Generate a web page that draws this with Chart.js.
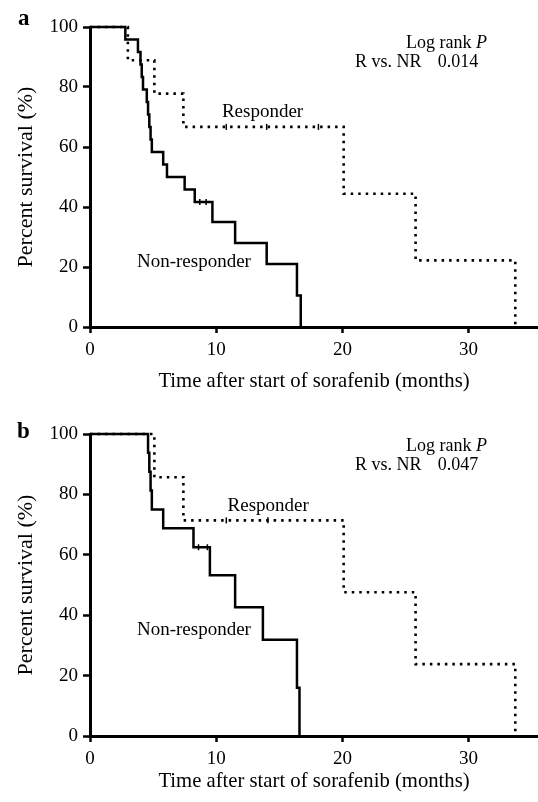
<!DOCTYPE html>
<html>
<head>
<meta charset="utf-8">
<script src="https://cdn.jsdelivr.net/npm/chart.js@4.4.0/dist/chart.umd.min.js"></script>
<style>
  html, body { margin: 0; padding: 0; background: #fff; }
  .panel { position: relative; width: 538px; }
</style>
</head>
<body>
<div class="panel" style="height:400px"><canvas id="chartA"></canvas></div>
<div class="panel" style="height:402px"><canvas id="chartB"></canvas></div>
<script>
// axis ticks
const monthTicks = [0, 10, 20, 30];
const percentTicks = [0, 20, 40, 60, 80, 100];

// panel a - Kaplan-Meier steps (months, % surviving after the step)
const monthsNonRespA = [0, 2.8, 3.8, 4.0, 4.1, 4.2, 4.5, 4.6, 4.7, 4.8, 4.9, 5.8, 6.1, 7.5, 8.3, 9.7, 11.5, 14.0, 16.4, 16.7];
const survNonRespA   = [100, 95.8, 91.7, 87.5, 83.3, 79.2, 75, 70.8, 66.7, 62.5, 58.3, 54.2, 50, 45.8, 41.7, 35, 28, 21, 10.5, 0];
const monthsRespA = [0, 3.0, 5.1, 7.4, 20.1, 25.8, 33.7];
const survRespA   = [100, 88.9, 77.8, 66.7, 44.4, 22.2, 0];
const censorMonthsNonRespA = [8.7, 9.2];
const censorSurvNonRespA   = [41.7, 41.7];
const censorMonthsRespA = [10.8, 14.0, 18.1];
const censorSurvRespA   = [66.7, 66.7, 66.7];

// panel b
const monthsNonRespB = [0, 4.6, 4.7, 4.8, 4.9, 5.8, 8.2, 9.5, 11.5, 13.7, 16.4, 16.6];
const survNonRespB   = [100, 93.8, 87.5, 81.3, 75, 68.8, 62.5, 53.2, 42.6, 31.9, 16, 0];
const monthsRespB = [0, 5.1, 7.4, 20.1, 25.8, 33.7];
const survRespB   = [100, 85.7, 71.4, 47.6, 23.8, 0];
const censorMonthsNonRespB = [8.6, 9.3];
const censorSurvNonRespB   = [62.5, 62.5];
const censorMonthsRespB = [10.8, 14.1];
const censorSurvRespB   = [71.4, 71.4];

const groupNames = ['Non-responder', 'Responder'];
const pValues = ['0.014', '0.047'];
const panelLetters = ['a', 'b'];

const SERIF = "'Liberation Serif', 'Times New Roman', serif";

const toPoints = (xs, ys) => xs.map((x, i) => ({ x: x, y: ys[i] }));

// draws the panel letter, the curve names and the log-rank note
const notesPlugin = {
  id: 'notes',
  afterDraw(chart) {
    const n = chart.options.plugins.notes;
    const ctx = chart.ctx;
    const xs = chart.scales.x, ys = chart.scales.y;
    ctx.save();
    ctx.fillStyle = '#000';
    ctx.textBaseline = 'middle';

    ctx.font = 'bold 23px ' + SERIF;
    ctx.textAlign = 'left';
    ctx.fillText(n.letter, n.letterPos[0], n.letterPos[1]);

    ctx.font = '19px ' + SERIF;
    n.curveLabels.forEach(l => {
      ctx.fillText(l.text, xs.getPixelForValue(l.x), ys.getPixelForValue(l.y));
    });

    // "Log rank P"
    ctx.font = 'italic 18px ' + SERIF;
    const pw = ctx.measureText('P').width;
    const right = xs.getPixelForValue(n.logRank.right);
    const y1 = ys.getPixelForValue(n.logRank.y1);
    ctx.textAlign = 'right';
    ctx.fillText('P', right, y1);
    ctx.font = '18px ' + SERIF;
    ctx.fillText('Log rank ', right - pw, y1);

    const y2 = ys.getPixelForValue(n.logRank.y2);
    ctx.textAlign = 'left';
    ctx.fillText('R vs. NR', xs.getPixelForValue(n.logRank.left), y2);
    ctx.fillText(n.p, xs.getPixelForValue(n.logRank.pLeft), y2);
    ctx.restore();
  }
};

function buildPanel(id, d, layout) {
  const censorStyle = {
    showLine: false, pointStyle: 'line', rotation: 90, pointRadius: 3, pointHoverRadius: 3,
    pointBorderWidth: 1.5, pointBorderColor: '#000', clip: 8
  };
  return new Chart(document.getElementById(id), {
    type: 'line',
    data: {
      datasets: [
        { label: groupNames[0], data: toPoints(d.nrX, d.nrY), stepped: true,
          borderColor: '#000', borderWidth: 2.5, pointRadius: 0, clip: 8 },
        { label: groupNames[1], data: toPoints(d.rX, d.rY), stepped: true,
          borderColor: '#000', borderWidth: 2.6, borderDash: [2.5, 5], pointRadius: 0, clip: 8 },
        Object.assign({ label: 'censored NR', data: toPoints(d.cnrX, d.cnrY) }, censorStyle),
        Object.assign({ label: 'censored R', data: toPoints(d.crX, d.crY) }, censorStyle)
      ]
    },
    options: {
      animation: false,
      responsive: true,
      maintainAspectRatio: false,
      devicePixelRatio: 1,
      layout: { autoPadding: false, padding: { top: layout.top, right: 0, bottom: 0, left: 0 } },
      plugins: {
        legend: { display: false },
        tooltip: { enabled: false },
        notes: layout.notes
      },
      scales: {
        x: {
          type: 'linear', min: 0, max: 35.5,
          afterFit: s => { s.height = layout.xHeight; },
          afterBuildTicks: s => { s.ticks = monthTicks.map(v => ({ value: v })); },
          border: { display: true, color: '#000', width: 3 },
          grid: { drawOnChartArea: false, drawTicks: true, tickLength: 6, tickWidth: 2.5, tickColor: '#000' },
          ticks: { color: '#000', padding: 6, font: { family: SERIF, size: 19 }, maxRotation: 0 },
          title: { display: true, text: 'Time after start of sorafenib (months)', color: '#000',
                   font: { family: SERIF, size: 20.7 }, padding: { top: 0, bottom: layout.titlePad } }
        },
        y: {
          type: 'linear', min: 0, max: 100,
          afterFit: s => { s.width = 90; },
          afterBuildTicks: s => { s.ticks = percentTicks.map(v => ({ value: v })); },
          border: { display: true, color: '#000', width: 3 },
          grid: { drawOnChartArea: false, drawTicks: true, tickLength: 7, tickWidth: 2.5, tickColor: '#000' },
          ticks: { color: '#000', padding: 5, font: { family: SERIF, size: 19 } },
          title: { display: true, text: 'Percent survival (%)', color: '#000',
                   font: { family: SERIF, size: 22 }, padding: { top: 13, bottom: 0 } }
        }
      }
    },
    plugins: [notesPlugin]
  });
}

buildPanel('chartA', {
  nrX: monthsNonRespA, nrY: survNonRespA, rX: monthsRespA, rY: survRespA,
  cnrX: censorMonthsNonRespA, cnrY: censorSurvNonRespA, crX: censorMonthsRespA, crY: censorSurvRespA
}, {
  top: 27, xHeight: 73, titlePad: 6,
  notes: {
    letter: panelLetters[0], letterPos: [18, 19], p: pValues[0],
    curveLabels: [{ text: groupNames[1], x: 10.45, y: 71.7 }, { text: groupNames[0], x: 3.72, y: 21.7 }],
    logRank: { right: 31.45, y1: 94.7, left: 21.0, pLeft: 27.55, y2: 88.3 }
  }
});

buildPanel('chartB', {
  nrX: monthsNonRespB, nrY: survNonRespB, rX: monthsRespB, rY: survRespB,
  cnrX: censorMonthsNonRespB, cnrY: censorSurvNonRespB, crX: censorMonthsRespB, crY: censorSurvRespB
}, {
  top: 34, xHeight: 66, titlePad: 8,
  notes: {
    letter: panelLetters[1], letterPos: [17, 32], p: pValues[1],
    curveLabels: [{ text: groupNames[1], x: 10.9, y: 76.2 }, { text: groupNames[0], x: 3.72, y: 35.1 }],
    logRank: { right: 31.45, y1: 95.8, left: 21.0, pLeft: 27.55, y2: 89.7 }
  }
});
</script>
</body>
</html>
